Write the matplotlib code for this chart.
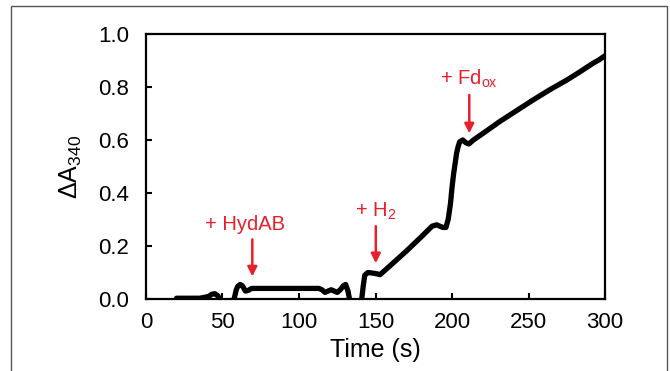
import matplotlib
matplotlib.use("Agg")
import matplotlib.pyplot as plt
from matplotlib.patches import Rectangle

plt.rcParams.update({
    "font.family": ["Liberation Sans", "DejaVu Sans"],
    "mathtext.fontset": "custom",
    "mathtext.rm": "Liberation Sans",
    "mathtext.default": "regular",
})

RED = "#e8202a"

# trace (time in s, absorbance change)
time_s = [20, 35, 38, 41, 43, 45, 47, 48, 49, 57, 58, 59, 60, 61.5, 63, 65, 67, 69, 72,
          113, 115, 117, 119, 121, 123, 125, 127, 129, 130.5, 132, 133, 134, 140,
          141, 142, 143, 145, 148, 151, 153, 160, 170, 180, 187, 190, 194, 196,
          197.5, 199, 200, 201, 202, 203, 204, 205, 207, 209, 211, 214, 222, 231,
          242, 253, 264, 275, 283, 292, 296, 299, 300]
delta_a = [0.003, 0.003, 0.006, 0.01, 0.018, 0.02, 0.012, 0.0, -0.01, -0.01, 0.01, 0.035, 0.048, 0.055, 0.05, 0.03, 0.033, 0.04, 0.04,
           0.04, 0.035, 0.025, 0.03, 0.035, 0.03, 0.025, 0.035, 0.05, 0.055, 0.03, 0.0, -0.01, -0.01,
           0.0, 0.05, 0.09, 0.10, 0.098, 0.095, 0.092, 0.128, 0.18, 0.235, 0.275, 0.28, 0.27, 0.27,
           0.3, 0.36, 0.42, 0.47, 0.51, 0.55, 0.575, 0.593, 0.6, 0.59, 0.585, 0.6, 0.632, 0.669,
           0.71, 0.751, 0.79, 0.826, 0.855, 0.889, 0.902, 0.914, 0.918]

# additions: label, label position, arrow tail, arrow tip
labels = ["+ HydAB", "+ H$_2$", "+ Fd$_{ox}$"]
label_xy = [(65, 0.28), (150, 0.33), (211, 0.83)]
arrow_x = [69.5, 150.2, 211.3]
arrow_tail = [0.225, 0.275, 0.77]
arrow_tip = [0.085, 0.135, 0.625]

fig = plt.figure(figsize=(6.7, 3.71), dpi=100)
ax = fig.add_axes([0.2179, 0.194, 0.6851, 0.7144])

ax.plot(time_s, delta_a, color="black", lw=3.8, solid_capstyle="round",
        solid_joinstyle="round", zorder=3)

for txt, (lx, ly), ax_x, t0, t1 in zip(labels, label_xy, arrow_x, arrow_tail, arrow_tip):
    ax.text(lx, ly, txt, color=RED, fontsize=14.5, ha="center", va="center")
    ax.annotate("", xy=(ax_x, t1), xytext=(ax_x, t0),
                arrowprops=dict(arrowstyle="-|>", color=RED, lw=1.8,
                                mutation_scale=14, shrinkA=0, shrinkB=0))

ax.set_xlim(0, 300)
ax.set_ylim(0, 1.0)
ax.set_xticks(range(0, 301, 50))
ax.set_yticks([0.0, 0.2, 0.4, 0.6, 0.8, 1.0])
ax.set_yticklabels([f"{v:.1f}" for v in ax.get_yticks()])
ax.tick_params(direction="in", length=4, width=1.5, labelsize=16)
ax.tick_params(axis="x", pad=9)
ax.tick_params(axis="y", pad=12)
for sp in ax.spines.values():
    sp.set_linewidth(1.6)

ax.set_xlabel("Time (s)", fontsize=18, labelpad=4)
ax.set_ylabel(r"$\Delta$A$_{340}$", fontsize=18, labelpad=10)

fig.patches.append(Rectangle((11 / 670, -0.05), 656 / 670, 1.05 - 6 / 371,
                             transform=fig.transFigure, fill=False,
                             edgecolor="#555555", lw=1.0))

fig.savefig("out.png", dpi=100)
